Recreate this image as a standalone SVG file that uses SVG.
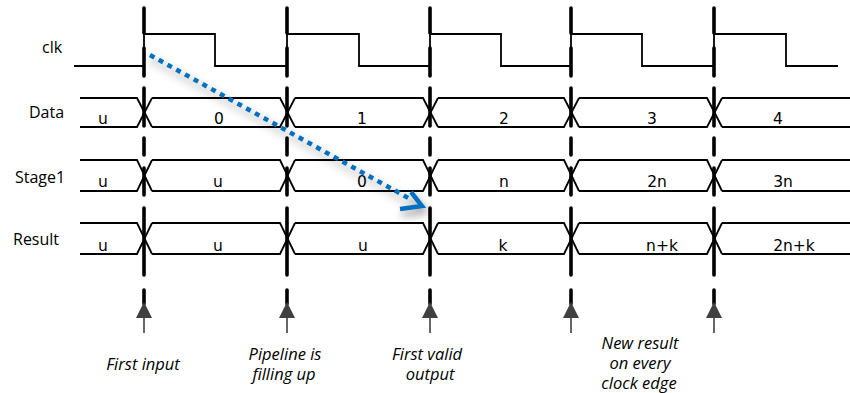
<svg xmlns="http://www.w3.org/2000/svg" width="850" height="393" viewBox="0 0 850 393">
  <style>
    .wave { fill: none; stroke: #000; stroke-width: 1.8; stroke-linejoin: miter; }
    .edge { fill: none; stroke: #000; stroke-width: 3.6; stroke-linecap: round; }
    .name { font-family: "Open Sans", "Liberation Sans", sans-serif; font-size: 16px; fill: #000; }
    .val { font-family: "DejaVu Sans", "Liberation Sans", sans-serif; font-size: 15.5px; fill: #000; text-anchor: middle; }
    .note { font-family: "Open Sans", "Liberation Sans", sans-serif; font-size: 16.5px; font-style: italic; fill: #000; text-anchor: middle; }
    .tick { stroke: #404040; stroke-width: 1.6; }
    .head { fill: #404040; }
    .flow { fill: none; stroke: #0070C0; stroke-width: 4.5; }
  </style>
  <defs>
    <filter id="soft-shadow" x="-10%" y="-20%" width="130%" height="150%">
      <feDropShadow dx="2" dy="5" stdDeviation="4" flood-color="#000" flood-opacity="0.45"/>
    </filter>
  </defs>

  <rect width="850" height="393" fill="#fff"/>

  <!-- clock signal -->
  <g id="clk">
    <text class="name" x="42" y="53">clk</text>
    <path class="wave" d="M74,66 H144 V34 H215 V66 H287 V34 H359 V66 H430 V34 H501 V66 H571 V34 H642 V66 H714 V34 H786 V66 H838"/>
  </g>

  <!-- input data bus -->
  <g id="data">
    <text class="name" x="29" y="118">Data</text>
    <path class="wave" d="M80,98 H137 L152,127 M80,127 H137 L152,98 M152,98 H280 L295,127 M152,127 H280 L295,98 M295,98 H423 L438,127 M295,127 H423 L438,98 M438,98 H564 L579,127 M438,127 H564 L579,98 M579,98 H707 L722,127 M579,127 H707 L722,98 M722,98 H850 M722,127 H850"/>
    <text class="val" x="103" y="124">u</text>
    <text class="val" x="219" y="124">0</text>
    <text class="val" x="362" y="124">1</text>
    <text class="val" x="504" y="124">2</text>
    <text class="val" x="652" y="124">3</text>
    <text class="val" x="778" y="124">4</text>
  </g>

  <!-- first pipeline stage -->
  <g id="stage1">
    <text class="name" x="15" y="183">Stage1</text>
    <path class="wave" d="M80,160 H137 L152,191 M80,191 H137 L152,160 M152,160 H280 L295,191 M152,191 H280 L295,160 M295,160 H423 L438,191 M295,191 H423 L438,160 M438,160 H564 L579,191 M438,191 H564 L579,160 M579,160 H707 L722,191 M579,191 H707 L722,160 M722,160 H850 M722,191 H850"/>
    <text class="val" x="103" y="187">u</text>
    <text class="val" x="218" y="187">u</text>
    <text class="val" x="362" y="187">0</text>
    <text class="val" x="504" y="187">n</text>
    <text class="val" x="657" y="187">2n</text>
    <text class="val" x="783" y="187">3n</text>
  </g>

  <!-- pipeline output -->
  <g id="result">
    <text class="name" x="13" y="245">Result</text>
    <path class="wave" d="M80,223 H137 L152,254 M80,254 H137 L152,223 M152,223 H280 L295,254 M152,254 H280 L295,223 M295,223 H423 L438,254 M295,254 H423 L438,223 M438,223 H564 L579,254 M438,254 H564 L579,223 M579,223 H707 L722,254 M579,254 H707 L722,223 M722,223 H850 M722,254 H850"/>
    <text class="val" x="103" y="251">u</text>
    <text class="val" x="218" y="251">u</text>
    <text class="val" x="363" y="251">u</text>
    <text class="val" x="503" y="251">k</text>
    <text class="val" x="662" y="251">n+k</text>
    <text class="val" x="794" y="251">2n+k</text>
  </g>

  <!-- rising-edge markers -->
  <g id="edges">
    <path class="edge" d="M144,8 V33 M144,48 V76 M144,88 V126 M144,138 V155 M144,168 V195 M144,208 V275 M144,290 V304"/>
    <path class="edge" d="M287,8 V33 M287,48 V76 M287,88 V126 M287,138 V155 M287,168 V195 M287,208 V275 M287,290 V304"/>
    <path class="edge" d="M430,8 V33 M430,48 V76 M430,88 V126 M430,138 V155 M430,168 V195 M430,208 V275 M430,290 V304"/>
    <path class="edge" d="M571,8 V33 M571,48 V76 M571,88 V126 M571,138 V155 M571,168 V195 M571,208 V275 M571,290 V304"/>
    <path class="edge" d="M714,8 V33 M714,48 V76 M714,88 V126 M714,138 V155 M714,168 V195 M714,208 V275 M714,290 V304"/>
  </g>

  <g id="connectors">
    <!-- pointers up to each edge -->
    <g id="edge-pointers">
      <line class="tick" x1="144" y1="316" x2="144" y2="333"/>
      <polygon class="head" points="144,302 136,318 152,318"/>
      <line class="tick" x1="287" y1="316" x2="287" y2="333"/>
      <polygon class="head" points="287,302 279,318 295,318"/>
      <line class="tick" x1="430" y1="316" x2="430" y2="333"/>
      <polygon class="head" points="430,302 422,318 438,318"/>
      <line class="tick" x1="571" y1="316" x2="571" y2="333"/>
      <polygon class="head" points="571,302 563,318 579,318"/>
      <line class="tick" x1="714" y1="316" x2="714" y2="333"/>
      <polygon class="head" points="714,302 706,318 722,318"/>
    </g>
    <!-- latency path through the pipeline -->
    <g id="latency-arrow" filter="url(#soft-shadow)">
      <line class="flow" x1="150" y1="55" x2="412" y2="200" stroke-dasharray="5 5"/>
      <path class="flow" d="M400,209 L422,206 L411,192" stroke-linejoin="miter"/>
    </g>
  </g>

  <!-- annotations -->
  <g id="notes">
    <text class="note" x="143" y="370">First input</text>
    <text class="note" x="285" y="360">Pipeline is</text>
    <text class="note" x="284" y="380">filling up</text>
    <text class="note" x="427" y="360">First valid</text>
    <text class="note" x="430" y="380">output</text>
    <text class="note" x="640" y="349">New result</text>
    <text class="note" x="640" y="369">on every</text>
    <text class="note" x="639" y="389">clock edge</text>
  </g>
</svg>
